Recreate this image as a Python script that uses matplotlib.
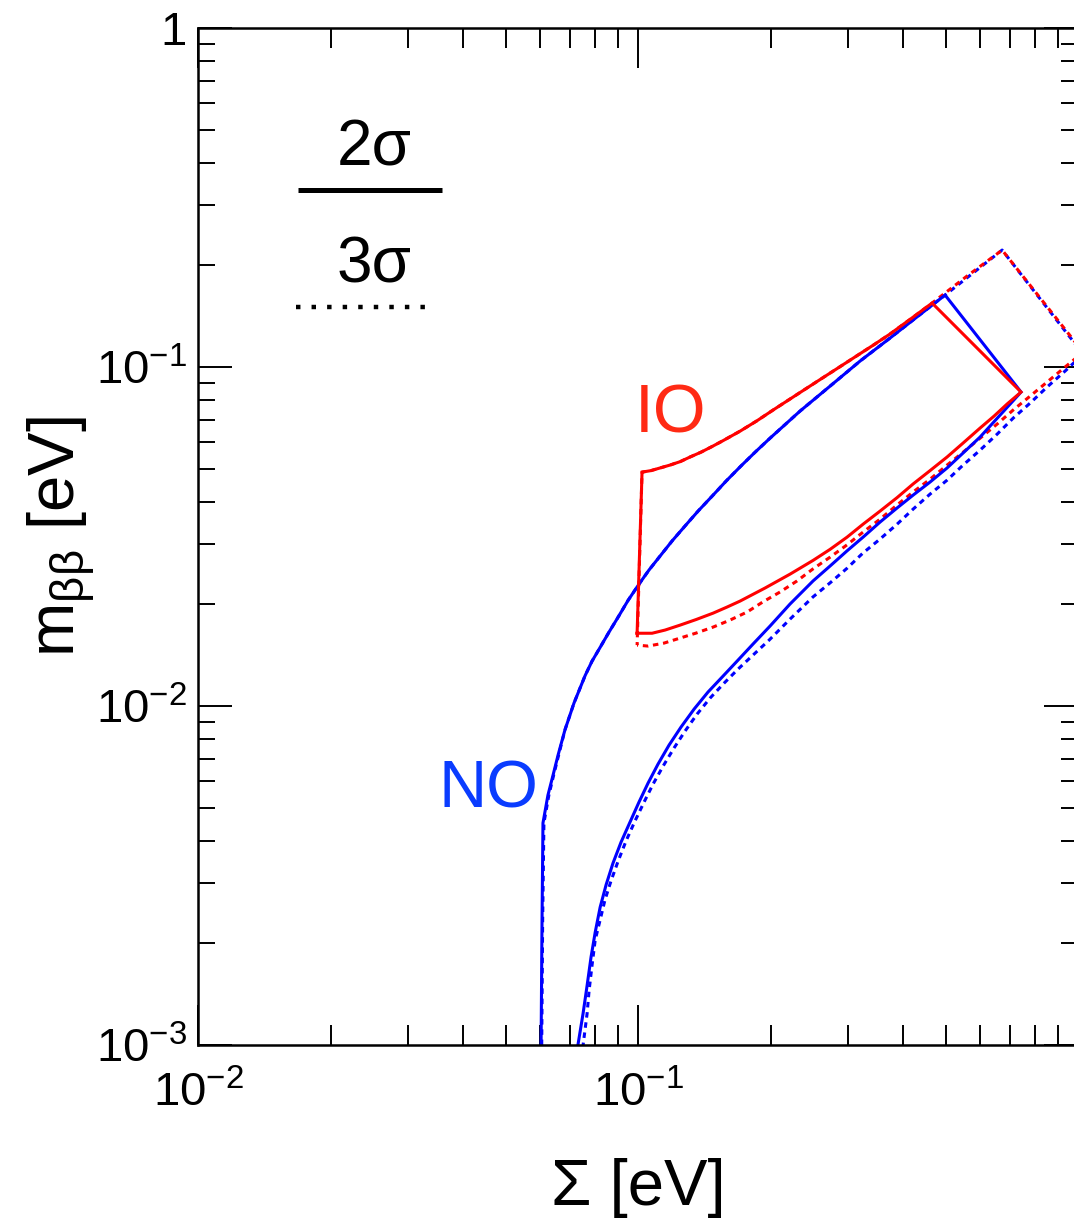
import numpy as np
import matplotlib
matplotlib.use("Agg")
import matplotlib.pyplot as plt
from matplotlib.ticker import FixedLocator, FixedFormatter, LogLocator, NullFormatter

plt.rcParams['font.family'] = ['Liberation Sans', 'DejaVu Sans']
plt.rcParams['mathtext.fontset'] = 'custom'
plt.rcParams['mathtext.rm'] = 'Liberation Sans'
plt.rcParams['mathtext.it'] = 'Liberation Sans'
plt.rcParams['mathtext.default'] = 'regular'

# ---------------- data: sum of masses [eV] vs effective Majorana mass [eV] ----------------
# Normal ordering, 2 sigma: left edge + upper bound -> cut edge -> lower bound
no2_sum = [0.0602, 0.0605, 0.0608, 0.0624, 0.0641, 0.0658, 0.0682, 0.0715, 0.0758, 0.0786,
           0.0820, 0.0859, 0.0901, 0.0949, 0.1005, 0.1059, 0.1122, 0.1195, 0.1279, 0.1369,
           0.1473, 0.1585, 0.1714, 0.1845, 0.1995, 0.2335, 0.2732, 0.3196, 0.3738, 0.4329,
           0.4986,
           0.742,
           0.665, 0.599, 0.5479, 0.5039, 0.4609, 0.4217, 0.3878, 0.3548, 0.3246, 0.2985,
           0.2732, 0.2499, 0.2215, 0.1995, 0.1825, 0.1679, 0.1552, 0.1442, 0.1341, 0.1252,
           0.1176, 0.1110, 0.1054, 0.1005, 0.0959, 0.0915, 0.0877, 0.0846, 0.0820, 0.0799,
           0.0782, 0.0766, 0.0750, 0.0730]
no2_mbb = [0.001, 0.00234, 0.00452, 0.00546, 0.00626, 0.00717, 0.00850, 0.0102, 0.0123, 0.01357,
           0.0149, 0.01653, 0.0183, 0.0205, 0.0229, 0.0252, 0.0277, 0.0307, 0.0340, 0.0376,
           0.0416, 0.0461, 0.0511, 0.0561, 0.0617, 0.0742, 0.0879, 0.1042, 0.1218, 0.1414,
           0.1631,
           0.0844,
           0.0722, 0.0622, 0.0558, 0.0504, 0.0458, 0.0419, 0.0384, 0.0349, 0.0315, 0.0287,
           0.0259, 0.0234, 0.0200, 0.01722, 0.01524, 0.01357, 0.01217, 0.0110, 0.0098, 0.00867,
           0.00767, 0.00674, 0.00593, 0.00521, 0.00455, 0.00397, 0.00344, 0.00297, 0.00255, 0.00215,
           0.00182, 0.00150, 0.00124, 0.001]

# Normal ordering, 3 sigma
no3_sum = [0.0604, 0.0607, 0.0611, 0.0627, 0.0643, 0.0660, 0.0682, 0.0715, 0.0758, 0.0786,
           0.0820, 0.0859, 0.0901, 0.0949, 0.1005, 0.1059, 0.1122, 0.1195, 0.1279, 0.1369,
           0.1473, 0.1585, 0.1714, 0.1845, 0.1995, 0.2335, 0.2732, 0.3196, 0.3738, 0.4329,
           0.4986, 0.577, 0.672,
           1.027,
           0.934, 0.850, 0.778, 0.712, 0.6546, 0.5989, 0.5479, 0.5039, 0.4609, 0.4217,
           0.3878, 0.3548, 0.3246, 0.2985, 0.2732, 0.2499, 0.2215, 0.1985, 0.1825, 0.1687,
           0.1569, 0.1458, 0.1362, 0.1279, 0.1207, 0.1140, 0.1082, 0.1032, 0.0984, 0.0939,
           0.0901, 0.0868, 0.0841, 0.0820, 0.0799, 0.0786, 0.0774, 0.0766, 0.0750]
no3_mbb = [0.001, 0.00234, 0.00452, 0.00546, 0.00626, 0.00717, 0.00850, 0.0102, 0.0123, 0.01357,
           0.0149, 0.01653, 0.0183, 0.0205, 0.0229, 0.0252, 0.0277, 0.0307, 0.0340, 0.0376,
           0.0416, 0.0461, 0.0511, 0.0561, 0.0617, 0.0742, 0.0879, 0.1042, 0.1218, 0.1414,
           0.1631, 0.1894, 0.2214,
           0.1092,
           0.0973, 0.0873, 0.0783, 0.0707, 0.0634, 0.0569, 0.0514, 0.0464, 0.0422, 0.0381,
           0.0344, 0.0311, 0.0283, 0.0255, 0.0231, 0.0210, 0.01805, 0.01565, 0.01414, 0.01285,
           0.01169, 0.01056, 0.00947, 0.00844, 0.00752, 0.00665, 0.00589, 0.00521, 0.00458, 0.0040,
           0.00349, 0.00305, 0.00268, 0.00234, 0.00204, 0.00172, 0.00145, 0.00124, 0.001]

# Inverted ordering, 2 sigma (closed contour)
io2_sum = [0.0995, 0.1021, 0.1070, 0.1122, 0.1182, 0.1246, 0.1313, 0.1390, 0.1473, 0.1561,
           0.1705, 0.1865, 0.2027, 0.2215, 0.2409, 0.2633, 0.2878, 0.3146, 0.3439, 0.3738,
           0.4174, 0.4658,
           0.742,
           0.6896, 0.6444, 0.5989, 0.5479, 0.5039, 0.4609, 0.4217, 0.3878, 0.3548, 0.3246,
           0.2985, 0.2732, 0.2499, 0.2215, 0.1944, 0.1705, 0.1594, 0.1481, 0.1355, 0.1246,
           0.1152, 0.1076, 0.0995]
io2_mbb = [0.0164, 0.0490, 0.0495, 0.0504, 0.0514, 0.0526, 0.0543, 0.0561, 0.0583, 0.0607,
           0.0647, 0.0695, 0.0747, 0.0805, 0.0864, 0.0931, 0.1003, 0.1081, 0.1165, 0.1252,
           0.1390, 0.1545,
           0.0844,
           0.0778, 0.0717, 0.0661, 0.0597, 0.0543, 0.0495, 0.0452, 0.0412, 0.0376, 0.0344,
           0.0315, 0.0290, 0.0269, 0.0245, 0.0223, 0.0204, 0.0196, 0.0188, 0.0180, 0.01733,
           0.01676, 0.0164, 0.0164]

# Inverted ordering, 3 sigma (closed contour)
io3_sum = [0.0995, 0.1021, 0.1070, 0.1122, 0.1182, 0.1246, 0.1313, 0.1390, 0.1473, 0.1561,
           0.1705, 0.1865, 0.2027, 0.2215, 0.2409, 0.2633, 0.2878, 0.3146, 0.3439, 0.3738,
           0.4174, 0.4658, 0.559, 0.672,
           1.027,
           0.934, 0.850, 0.778, 0.712, 0.6546, 0.5989, 0.5479, 0.5039, 0.4609, 0.4217,
           0.3878, 0.3548, 0.3246, 0.2985, 0.2732, 0.2499, 0.2298, 0.2102, 0.1923, 0.1769,
           0.1619, 0.1481, 0.1355, 0.1246, 0.1146, 0.1054, 0.0995]
io3_mbb = [0.01513, 0.0490, 0.0495, 0.0504, 0.0514, 0.0526, 0.0543, 0.0561, 0.0583, 0.0607,
           0.0647, 0.0695, 0.0747, 0.0805, 0.0864, 0.0931, 0.1003, 0.1081, 0.1165, 0.1252,
           0.1390, 0.1545, 0.1855, 0.2214,
           0.1107,
           0.1000, 0.0903, 0.0821, 0.0747, 0.0679, 0.0617, 0.0561, 0.0514, 0.0467, 0.0428,
           0.0392, 0.0356, 0.0326, 0.0299, 0.0275, 0.0254, 0.0234, 0.0217, 0.0203, 0.01894,
           0.01794, 0.0171, 0.01642, 0.01587, 0.01534, 0.01503, 0.01513]

x_ticks = [0.01, 0.1, 1.0]
x_tick_labels = [r'$10^{-2}$', r'$10^{-1}$', '']
y_ticks = [0.001, 0.01, 0.1, 1.0]
y_tick_labels = [r'$10^{-3}$', r'$10^{-2}$', r'$10^{-1}$', '1']

BLUE = '#0000ff'
RED = '#ff0000'

# ---------------- figure ----------------
fig = plt.figure(figsize=(10.74, 12.22), dpi=100)
ax = fig.add_axes([0.1844, 0.1448, 0.8194, 0.8322])
ax.set_xscale('log')
ax.set_yscale('log')

lw = 2.2
ax.plot(no3_sum, no3_mbb, color=BLUE, lw=lw, linestyle=(0, (1.8, 1.55)),
        dash_capstyle='butt')
ax.plot(io3_sum, io3_mbb, color=RED, lw=lw, linestyle=(0.8, (1.8, 1.55)),
        dash_capstyle='butt')
ax.plot(no2_sum, no2_mbb, color=BLUE, lw=lw, solid_joinstyle='miter')
ax.plot(io2_sum, io2_mbb, color=RED, lw=lw, solid_joinstyle='miter')

ax.set_xlim(0.01, 1.0)
ax.set_ylim(0.001, 1.0)

ax.xaxis.set_major_locator(FixedLocator(x_ticks))
ax.xaxis.set_major_formatter(FixedFormatter(x_tick_labels))
ax.yaxis.set_major_locator(FixedLocator(y_ticks))
ax.yaxis.set_major_formatter(FixedFormatter(y_tick_labels))
for axis in (ax.xaxis, ax.yaxis):
    axis.set_minor_locator(LogLocator(base=10, subs=np.arange(2, 10)))
    axis.set_minor_formatter(NullFormatter())

ax.tick_params(which='both', direction='in', top=True, right=True, width=1.4,
               colors='black', labelsize=34)
ax.tick_params(axis='x', which='major', length=28.8, pad=19)
ax.tick_params(axis='x', which='minor', length=14.4)
ax.tick_params(axis='y', which='major', length=24.5, pad=8)
ax.tick_params(axis='y', which='minor', length=12.2)
for s in ax.spines.values():
    s.set_linewidth(1.8)

# axis titles
ax.text(0.5, -0.157, '\u03a3 [eV]', transform=ax.transAxes, ha='center',
        va='baseline', fontsize=47)
ax.text(-0.1545, 0.5, r'm$_{\beta\beta}$ [eV]', transform=ax.transAxes, ha='center',
        va='center', rotation=90, fontsize=47)

# ordering labels
ax.text(0.5364, 0.6028, 'IO', transform=ax.transAxes, ha='center', va='baseline',
        fontsize=49, color='#ff2a14')
ax.text(0.3295, 0.234, 'NO', transform=ax.transAxes, ha='center', va='baseline',
        fontsize=48, color='#0a3cff')

# line-style key
ax.text(0.200, 0.8653, '2\u03c3', transform=ax.transAxes, ha='center', va='baseline',
        fontsize=46)
ax.plot([0.1136, 0.2773], [0.8407, 0.8407], transform=ax.transAxes, color='black',
        lw=3.6, solid_capstyle='butt')
ax.text(0.200, 0.7502, '3\u03c3', transform=ax.transAxes, ha='center', va='baseline',
        fontsize=46)
ax.plot([0.1114, 0.2625], [0.7257, 0.7257], transform=ax.transAxes, color='black',
        lw=3.2, linestyle=(0, (1.0, 2.5)), dash_capstyle='butt')

fig.savefig('out.png', dpi=100)
